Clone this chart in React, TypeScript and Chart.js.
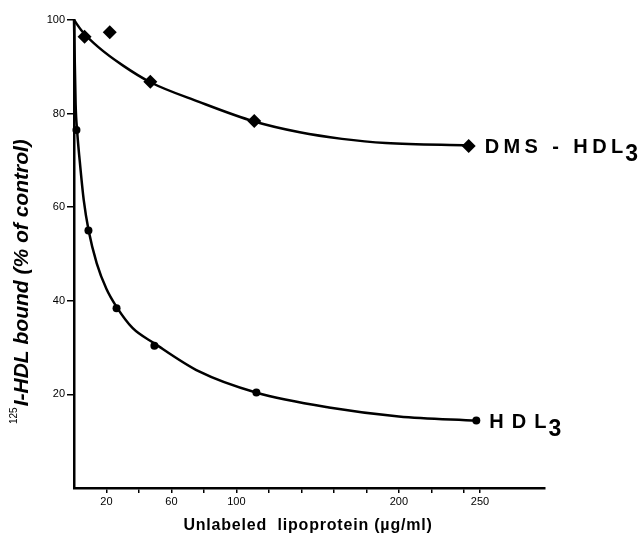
import React, { useEffect, useRef } from "react";
import { Chart, registerables } from "chart.js";

Chart.register(...registerables);

// Fitted curves
const dmsCurveX = [0, 5, 15, 30, 47, 77, 111, 139, 165, 192, 243];
const dmsCurveY = [100, 97.6, 94.2, 90.3, 86.7, 82.5, 78.3, 76.0, 74.6, 73.7, 73.2];
const hdlCurveX = [0, 1, 2, 3.5, 6, 9, 14, 20, 26, 36, 49.5, 77, 112, 157, 200, 248];
const hdlCurveY = [100, 82, 76, 70, 61.5, 55, 48, 42.5, 38.8, 34.2, 30.9, 24.9, 20.4, 17.2, 15.3, 14.4];

// Measured points
const dmsPointX = [6.5, 22, 47, 111, 243];
const dmsPointY = [96.4, 97.4, 86.8, 78.4, 73.1];
const hdlPointX = [1.5, 8.9, 26.2, 49.5, 112.3, 247.7];
const hdlPointY = [76.5, 55.0, 38.4, 30.4, 20.4, 14.4];

// Axes
const xTickValues = [20, 40, 60, 80, 100, 120, 140, 160, 180, 200, 220, 240, 250];
const xTickLabelValues = [20, 60, 100, 200, 250];
const yTickValues = [20, 40, 60, 80, 100];

const seriesNames = ["DMS - HDL", "HDL"];
const xTitle = "Unlabeled  lipoprotein (µg/ml)";
const yTitleSup = "125";
const yTitleMain = "I-HDL bound (% of control)";

const zip = (xs: number[], ys: number[]) => xs.map((x, i) => ({ x, y: ys[i] }));

const FONT = "'Liberation Sans', Arial, sans-serif";

const annotationPlugin = {
  id: "annots",
  afterDatasetsDraw(chart: any) {
    const ctx = chart.ctx as CanvasRenderingContext2D;
    ctx.save();
    ctx.fillStyle = "#000";
    // series labels
    const drawLabel = (dsIndex: number, name: string, dx: number, spacing: number) => {
      const meta = chart.getDatasetMeta(dsIndex);
      const el = meta.data[meta.data.length - 1];
      const x0 = el.x + dx;
      const y0 = el.y + 7;
      ctx.font = `bold 20px ${FONT}`;
      (ctx as any).letterSpacing = `${spacing}px`;
      ctx.textAlign = "left";
      ctx.textBaseline = "alphabetic";
      ctx.fillText(name, x0, y0);
      const w = ctx.measureText(name).width;
      (ctx as any).letterSpacing = "0px";
      ctx.font = `bold 23px ${FONT}`;
      ctx.fillText("3", x0 + w - spacing + 2, y0 + 8);
    };
    drawLabel(2, seriesNames[0], 16, 4.4);
    drawLabel(3, seriesNames[1], 13, 8);

    // x title
    (ctx as any).letterSpacing = "0.8px";
    ctx.font = `bold 16px ${FONT}`;
    ctx.textAlign = "center";
    ctx.textBaseline = "middle";
    ctx.fillText(xTitle, 308, 526);
    (ctx as any).letterSpacing = "0px";

    // y title (rotated)
    ctx.translate(22, 424);
    ctx.rotate(-Math.PI / 2);
    ctx.textAlign = "left";
    ctx.textBaseline = "alphabetic";
    ctx.font = `10px ${FONT}`;
    ctx.fillText(yTitleSup, 0, -5);
    const sw = ctx.measureText(yTitleSup).width;
    ctx.font = `italic bold 21px ${FONT}`;
    ctx.fillText(yTitleMain, sw + 1, 6);
    ctx.restore();
  },
};

export default function App() {
  const ref = useRef<HTMLCanvasElement>(null);

  useEffect(() => {
    if (!ref.current) return;
    const lineCommon = {
      type: "line" as const,
      borderColor: "#000",
      backgroundColor: "#000",
      borderWidth: 2.5,
      pointRadius: 0,
      fill: false,
      cubicInterpolationMode: "monotone" as const,
      clip: false as any,
    };
    const chart = new Chart(ref.current, {
      type: "line",
      data: {
        datasets: [
          { ...lineCommon, data: zip(dmsCurveX, dmsCurveY) },
          { ...lineCommon, data: zip(hdlCurveX, hdlCurveY) },
          {
            type: "scatter",
            data: zip(dmsPointX, dmsPointY),
            pointStyle: "rectRot",
            pointRadius: 7,
            backgroundColor: "#000",
            borderColor: "#000",
            borderWidth: 0,
            showLine: false,
            clip: false as any,
          },
          {
            type: "scatter",
            data: zip(hdlPointX, hdlPointY),
            pointStyle: "circle",
            pointRadius: 4,
            backgroundColor: "#000",
            borderColor: "#000",
            borderWidth: 0,
            showLine: false,
            clip: false as any,
          },
        ] as any,
      },
      options: {
        animation: false,
        responsive: false,
        maintainAspectRatio: false,
        layout: { padding: { top: 20, right: 97, left: 0, bottom: 0 } },
        plugins: { legend: { display: false }, tooltip: { enabled: false } },
        scales: {
          x: {
            type: "linear",
            min: 0,
            max: 290,
            afterBuildTicks: (scale: any) => {
              scale.ticks = xTickValues.map((v) => ({ value: v }));
            },
            afterFit: (scale: any) => {
              scale.height = 46;
            },
            ticks: {
              autoSkip: false,
              maxRotation: 0,
              padding: 2,
              color: "#000",
              font: { family: FONT, size: 11 },
              callback: (v: any) => (xTickLabelValues.includes(Number(v)) ? String(v) : ""),
            },
            grid: { display: true, drawOnChartArea: false, drawTicks: true, tickLength: 5, color: "#000", lineWidth: 1.5 },
            border: { display: true, color: "#000", width: 2.5 },
          },
          y: {
            type: "linear",
            min: 0,
            max: 100,
            afterBuildTicks: (scale: any) => {
              scale.ticks = yTickValues.map((v) => ({ value: v }));
            },
            afterFit: (scale: any) => {
              scale.width = 74;
            },
            ticks: {
              autoSkip: false,
              padding: 2,
              color: "#000",
              font: { family: FONT, size: 11 },
            },
            grid: { display: true, drawOnChartArea: false, drawTicks: true, tickLength: 7, color: "#000", lineWidth: 1.5 },
            border: { display: true, color: "#000", width: 2.5 },
          },
        },
      },
      plugins: [annotationPlugin],
    } as any);
    return () => chart.destroy();
  }, []);

  return (
    <div style={{ position: "fixed", left: 0, top: 0, width: 642, height: 534, background: "#fff" }}>
      <canvas ref={ref} width={642} height={534} style={{ display: "block" }} />
    </div>
  );
}
